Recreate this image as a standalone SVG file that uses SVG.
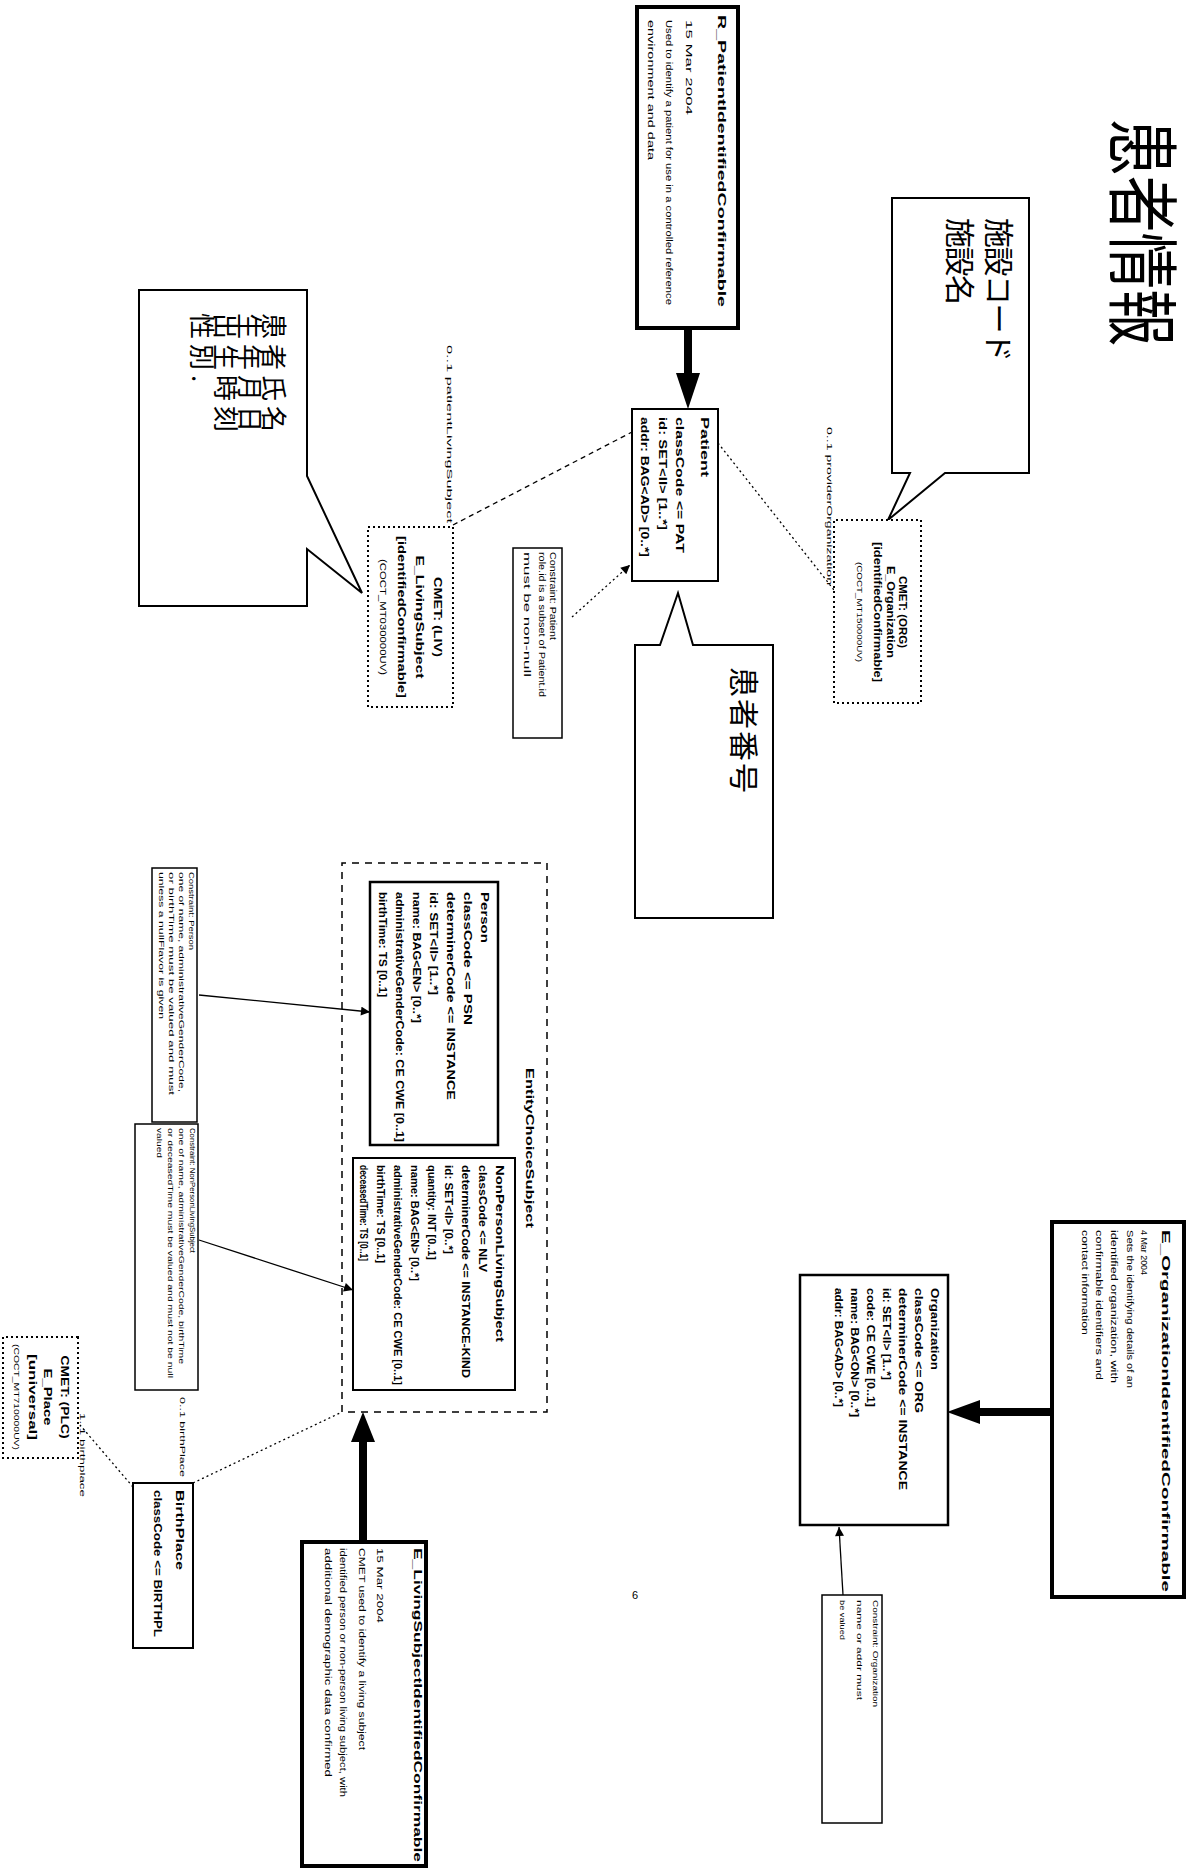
<svg xmlns="http://www.w3.org/2000/svg" width="1187" height="1868" viewBox="0 0 1187 1868">
<style>
.box{fill:#fff;stroke:#000;stroke-width:2}
.thick{stroke-width:4}
.cls{stroke-width:2.5}
.note{fill:#fff;stroke:#000;stroke-width:1.5}
.cmet{fill:#fff;stroke:#000;stroke-width:2;stroke-dasharray:2 3}
.region{fill:none;stroke:#000;stroke-width:1.5;stroke-dasharray:7 6}
.bub{fill:#fff;stroke:#000;stroke-width:2}
.t{font-family:"Liberation Sans",Arial,sans-serif;font-size:11px;fill:#000}
.b{font-weight:bold}
.s{font-size:9px}
.xs{font-size:8px}
.m{text-anchor:middle}
.cjk{font-family:"Noto Sans CJK JP","Noto Sans CJK SC",sans-serif;fill:#000}
.dotl{fill:none;stroke:#000;stroke-width:1.3;stroke-dasharray:2 3}
.dashl{fill:none;stroke:#000;stroke-width:1.3;stroke-dasharray:5 4}
.sol{fill:none;stroke:#000;stroke-width:1.3}
.fat{fill:none;stroke:#000;stroke-width:8}
</style>
<defs>
<marker id="ah" viewBox="0 0 10 10" refX="10" refY="5" markerWidth="11" markerHeight="9" markerUnits="userSpaceOnUse" orient="auto"><path d="M0,0 L10,5 L0,10 z" fill="#000"/></marker>
</defs>
<g transform="translate(1187,0) rotate(90)">
<text id="title" class="cjk" x="119" y="71" font-size="72" textLength="227" lengthAdjust="spacingAndGlyphs">患者情報</text>

<g id="connectors">
<line class="fat" x1="328" y1="499" x2="375" y2="499"/>
<polygon points="373,487 373,511 409,499" fill="#000"/>
<line class="dotl" x1="617" y1="615" x2="565" y2="557" marker-end="url(#ah)"/>
<line class="dashl" x1="525" y1="734" x2="432" y2="555"/>
<line class="dotl" x1="443" y1="469" x2="590" y2="353"/>
<line class="sol" x1="995" y1="988" x2="1012" y2="817" marker-end="url(#ah)"/>
<line class="sol" x1="1240" y1="988" x2="1290" y2="834" marker-end="url(#ah)"/>
<line class="dotl" x1="1487" y1="1054" x2="1425" y2="1107"/>
<line class="dotl" x1="1483" y1="994" x2="1412" y2="845"/>
<line class="fat" x1="1542" y1="824" x2="1440" y2="824"/>
<polygon points="1442,812 1442,836 1412,824" fill="#000"/>
<line class="fat" x1="1412" y1="135" x2="1412" y2="209"/>
<polygon points="1400,207 1424,207 1412,240" fill="#000"/>
<line class="sol" x1="1595" y1="344" x2="1527" y2="348" marker-end="url(#ah)"/>
</g>

<g id="r-patient">
<rect class="box thick" x="7" y="449" width="321" height="101"/>
<text class="t b" x="15" y="469" font-size="13" textLength="292" lengthAdjust="spacingAndGlyphs">R_PatientIdentifiedConfirmable</text>
<text class="t s" x="20" y="501" textLength="95" lengthAdjust="spacingAndGlyphs">15 Mar 2004</text>
<text class="t s" x="20" y="521" textLength="285" lengthAdjust="spacingAndGlyphs">Used to identify a patient for use in a controlled reference</text>
<text class="t s" x="20" y="539" textLength="140" lengthAdjust="spacingAndGlyphs">environment and data</text>
</g>

<g id="patient">
<rect class="box" x="409" y="469" width="172" height="86"/>
<text class="t b" x="417" y="486" textLength="60" lengthAdjust="spacingAndGlyphs">Patient</text>
<text class="t b" x="417" y="511" textLength="136" lengthAdjust="spacingAndGlyphs">classCode &lt;= PAT</text>
<text class="t b" x="417" y="528" textLength="113" lengthAdjust="spacingAndGlyphs">id: SET&lt;II&gt; [1..*]</text>
<text class="t b" x="417" y="546" textLength="140" lengthAdjust="spacingAndGlyphs">addr: BAG&lt;AD&gt; [0..*]</text>
</g>

<g id="bubble-patient-no">
<path class="bub" d="M645,414 L918,414 L918,552 L645,552 L645,527 L593,509 L645,494 Z"/>
<text class="cjk" x="667" y="454" font-size="30" letter-spacing="2">患者番号</text>
</g>

<g id="note-patient">
<rect class="note" x="548" y="625" width="190" height="49"/>
<text class="t s" x="552" y="637" textLength="88" lengthAdjust="spacingAndGlyphs">Constraint: Patient</text>
<text class="t s" x="552" y="648" textLength="145" lengthAdjust="spacingAndGlyphs">role.id is a subset of Patient.id</text>
<text class="t s" x="552" y="663" textLength="125" lengthAdjust="spacingAndGlyphs">must be non-null</text>
</g>

<g id="bubble-patient-name">
<path class="bub" d="M290,880 L476,880 L593,825 L549,880 L606,880 L606,1048 L290,1048 Z"/>
<text class="cjk" x="313" y="923" font-size="26" letter-spacing="5">患者氏名</text>
<text class="cjk" x="313" y="947" font-size="26" letter-spacing="5">生年月日</text>
<text class="cjk" x="313" y="971" font-size="26" letter-spacing="5">出生時刻</text>
<text class="cjk" x="313" y="995" font-size="26" letter-spacing="5">性別.</text>
</g>

<g id="bubble-facility">
<path class="bub" d="M198,158 L473,158 L473,242 L520,299 L473,277 L473,295 L198,295 Z"/>
<text class="cjk" x="218" y="199" font-size="30" letter-spacing="-1.5">施設コード</text>
<text class="cjk" x="218" y="238" font-size="30" letter-spacing="-1.5">施設名</text>
</g>

<g id="cmet-org">
<rect class="cmet" x="520" y="266" width="183" height="87"/>
<text class="t b m" x="612" y="288" font-size="10" textLength="72" lengthAdjust="spacingAndGlyphs">CMET: (ORG)</text>
<text class="t b m" x="612" y="300" font-size="10" textLength="92" lengthAdjust="spacingAndGlyphs">E_Organization</text>
<text class="t b m" x="612" y="313" font-size="10" textLength="140" lengthAdjust="spacingAndGlyphs">[identifiedConfirmable]</text>
<text class="t m xs" x="612" y="330" textLength="100" lengthAdjust="spacingAndGlyphs">(COCT_MT150000UV)</text>
</g>
<text class="t xs" x="427" y="360" textLength="158" lengthAdjust="spacingAndGlyphs">0..1 providerOrganization</text>

<g id="cmet-living">
<rect class="cmet" x="527" y="734" width="180" height="85"/>
<text class="t b m" x="617" y="753" textLength="80" lengthAdjust="spacingAndGlyphs">CMET: (LIV)</text>
<text class="t b m" x="617" y="771" textLength="123" lengthAdjust="spacingAndGlyphs">E_LivingSubject</text>
<text class="t b m" x="617" y="789" textLength="162" lengthAdjust="spacingAndGlyphs">[identifiedConfirmable]</text>
<text class="t m s" x="617" y="807" textLength="116" lengthAdjust="spacingAndGlyphs">(COCT_MT030000UV)</text>
</g>
<text class="t xs" x="345" y="740" textLength="178" lengthAdjust="spacingAndGlyphs">0..1 patientLivingSubject</text>

<g id="entity-choice">
<rect class="region" x="863" y="640" width="549" height="205"/>
<text class="t b" x="1068" y="661" font-size="12" textLength="160" lengthAdjust="spacingAndGlyphs">EntityChoiceSubject</text>
</g>

<g id="person">
<rect class="box cls" x="882" y="689" width="263" height="128"/>
<text class="t b" x="892" y="706" textLength="51" lengthAdjust="spacingAndGlyphs">Person</text>
<text class="t b" x="892" y="723" textLength="133" lengthAdjust="spacingAndGlyphs">classCode &lt;= PSN</text>
<text class="t b" x="892" y="740" textLength="208" lengthAdjust="spacingAndGlyphs">determinerCode &lt;= INSTANCE</text>
<text class="t b" x="892" y="757" textLength="103" lengthAdjust="spacingAndGlyphs">id: SET&lt;II&gt; [1..*]</text>
<text class="t b" x="892" y="774" textLength="131" lengthAdjust="spacingAndGlyphs">name: BAG&lt;EN&gt; [0..*]</text>
<text class="t b" x="892" y="791" textLength="250" lengthAdjust="spacingAndGlyphs">administrativeGenderCode: CE CWE [0..1]</text>
<text class="t b" x="892" y="808" textLength="105" lengthAdjust="spacingAndGlyphs">birthTime: TS [0..1]</text>
</g>

<g id="nonperson">
<rect class="box" x="1158" y="672" width="232" height="162" stroke-width="3"/>
<text class="t b" x="1165" y="691" textLength="177" lengthAdjust="spacingAndGlyphs">NonPersonLivingSubject</text>
<text class="t b" x="1165" y="708" textLength="107" lengthAdjust="spacingAndGlyphs">classCode &lt;= NLV</text>
<text class="t b" x="1165" y="725" textLength="213" lengthAdjust="spacingAndGlyphs">determinerCode &lt;= INSTANCE-KIND</text>
<text class="t b" x="1165" y="742" textLength="89" lengthAdjust="spacingAndGlyphs">id: SET&lt;II&gt; [0..*]</text>
<text class="t b" x="1165" y="759" textLength="95" lengthAdjust="spacingAndGlyphs">quantity: INT [0..1]</text>
<text class="t b" x="1165" y="776" textLength="116" lengthAdjust="spacingAndGlyphs">name: BAG&lt;EN&gt; [0..*]</text>
<text class="t b" x="1165" y="793" textLength="220" lengthAdjust="spacingAndGlyphs">administrativeGenderCode: CE CWE [0..1]</text>
<text class="t b" x="1165" y="810" textLength="98" lengthAdjust="spacingAndGlyphs">birthTime: TS [0..1]</text>
<text class="t b" x="1165" y="827" textLength="96" lengthAdjust="spacingAndGlyphs">deceasedTime: TS [0..1]</text>
</g>

<g id="note-person">
<rect class="note" x="868" y="990" width="254" height="45"/>
<text class="t xs" x="872" y="998" textLength="78" lengthAdjust="spacingAndGlyphs">Constraint: Person</text>
<text class="t xs" x="872" y="1008" textLength="220" lengthAdjust="spacingAndGlyphs">one of name, administrativeGenderCode,</text>
<text class="t xs" x="872" y="1018" textLength="223" lengthAdjust="spacingAndGlyphs">or birthTime must be valued and must</text>
<text class="t xs" x="872" y="1028" textLength="147" lengthAdjust="spacingAndGlyphs">unless a nullFlavor is given</text>
</g>

<g id="note-nonperson">
<rect class="note" x="1124" y="989" width="266" height="63"/>
<text class="t xs" x="1128" y="997" textLength="125" lengthAdjust="spacingAndGlyphs">Constraint: NonPersonLivingSubject</text>
<text class="t xs" x="1128" y="1008" textLength="236" lengthAdjust="spacingAndGlyphs">one of name, administrativeGenderCode, birthTime</text>
<text class="t xs" x="1128" y="1019" textLength="250" lengthAdjust="spacingAndGlyphs">or deceasedTime must be valued and must not be null</text>
<text class="t xs" x="1128" y="1030" textLength="30" lengthAdjust="spacingAndGlyphs">valued</text>
</g>

<g id="birthplace">
<rect class="box" x="1483" y="994" width="165" height="60"/>
<text class="t b" x="1490" y="1011" textLength="80" lengthAdjust="spacingAndGlyphs">BirthPlace</text>
<text class="t b" x="1490" y="1033" textLength="147" lengthAdjust="spacingAndGlyphs">classCode &lt;= BIRTHPL</text>
</g>
<text class="t xs" x="1397" y="1007" textLength="80" lengthAdjust="spacingAndGlyphs">0..1 birthPlace</text>
<text class="t xs" x="1413" y="1107" textLength="84" lengthAdjust="spacingAndGlyphs">1..1 birthplace</text>

<g id="cmet-place">
<rect class="cmet" x="1337" y="1109" width="121" height="75"/>
<text class="t b m" x="1397" y="1126" textLength="83" lengthAdjust="spacingAndGlyphs">CMET: (PLC)</text>
<text class="t b m" x="1397" y="1143" font-size="13" textLength="57" lengthAdjust="spacingAndGlyphs">E_Place</text>
<text class="t b m" x="1397" y="1158" textLength="86" lengthAdjust="spacingAndGlyphs">[universal]</text>
<text class="t m xs" x="1397" y="1173" textLength="106" lengthAdjust="spacingAndGlyphs">(COCT_MT710000UV)</text>
</g>

<g id="e-living-subject">
<rect class="box thick" x="1542" y="761" width="324" height="124"/>
<text class="t b" x="1548" y="773" font-size="12" textLength="314" lengthAdjust="spacingAndGlyphs">E_LivingSubjectIdentifiedConfirmable</text>
<text class="t s" x="1548" y="810" textLength="75" lengthAdjust="spacingAndGlyphs">15 Mar 2004</text>
<text class="t s" x="1548" y="828" textLength="202" lengthAdjust="spacingAndGlyphs">CMET used to identify a living subject</text>
<text class="t s" x="1548" y="847" textLength="249" lengthAdjust="spacingAndGlyphs">identified person or non-person living subject, with</text>
<text class="t s" x="1548" y="862" textLength="229" lengthAdjust="spacingAndGlyphs">additional demographic data confirmed</text>
</g>

<g id="organization">
<rect class="box cls" x="1275" y="239" width="250" height="148"/>
<text class="t b" x="1288" y="256" textLength="82" lengthAdjust="spacingAndGlyphs">Organization</text>
<text class="t b" x="1288" y="272" textLength="125" lengthAdjust="spacingAndGlyphs">classCode &lt;= ORG</text>
<text class="t b" x="1288" y="288" textLength="202" lengthAdjust="spacingAndGlyphs">determinerCode &lt;= INSTANCE</text>
<text class="t b" x="1288" y="304" textLength="92" lengthAdjust="spacingAndGlyphs">id: SET&lt;II&gt; [1..*]</text>
<text class="t b" x="1288" y="320" textLength="119" lengthAdjust="spacingAndGlyphs">code: CE CWE [0..1]</text>
<text class="t b" x="1288" y="336" textLength="129" lengthAdjust="spacingAndGlyphs">name: BAG&lt;ON&gt; [0..*]</text>
<text class="t b" x="1288" y="352" textLength="119" lengthAdjust="spacingAndGlyphs">addr: BAG&lt;AD&gt; [0..*]</text>
</g>

<g id="e-organization">
<rect class="box thick" x="1222" y="3" width="375" height="132"/>
<text class="t b" x="1230" y="25" font-size="12" textLength="362" lengthAdjust="spacingAndGlyphs">E_OrganizationIdentifiedConfirmable</text>
<text class="t s" x="1230" y="46" textLength="45" lengthAdjust="spacingAndGlyphs">4 Mar 2004</text>
<text class="t s" x="1230" y="60" textLength="158" lengthAdjust="spacingAndGlyphs">Sets the identifying details of an</text>
<text class="t s" x="1230" y="76" textLength="153" lengthAdjust="spacingAndGlyphs">identified organization, with</text>
<text class="t s" x="1230" y="91" textLength="150" lengthAdjust="spacingAndGlyphs">confirmable identifiers and</text>
<text class="t s" x="1230" y="105" textLength="105" lengthAdjust="spacingAndGlyphs">contact information</text>
</g>

<g id="note-organization">
<rect class="note" x="1595" y="305" width="228" height="60"/>
<text class="t xs" x="1600" y="314" textLength="107" lengthAdjust="spacingAndGlyphs">Constraint: Organization</text>
<text class="t xs" x="1600" y="330" textLength="100" lengthAdjust="spacingAndGlyphs">name or addr must</text>
<text class="t xs" x="1600" y="347" textLength="40" lengthAdjust="spacingAndGlyphs">be valued</text>
</g>
</g>
<text id="page-number" class="t" x="635" y="1599" font-size="20" text-anchor="middle">6</text>
</svg>
